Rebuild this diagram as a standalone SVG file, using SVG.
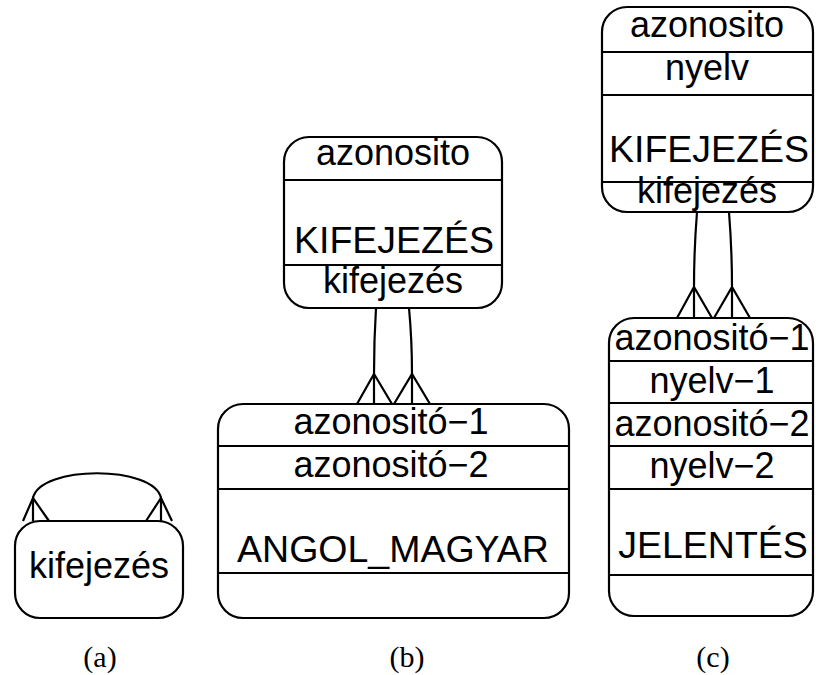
<svg xmlns="http://www.w3.org/2000/svg" width="816" height="675" viewBox="0 0 816 675">
<style>
.box{fill:none;stroke:#000;stroke-width:2.2}
.sep{stroke:#000;stroke-width:2.2}
.t{font-family:"Liberation Sans",Arial,sans-serif;font-size:36px;text-anchor:middle;fill:#000}
.c{font-size:37.5px}
.lbl{font-family:"Liberation Serif","Times New Roman",serif;font-size:30px;text-anchor:middle;fill:#000}
.con{fill:none;stroke:#000;stroke-width:2.2;stroke-linejoin:miter}
</style>
<rect width="816" height="675" fill="#fff"/>
<g id="connectors">
<path class="con" d="M33,498 C40,465 154,465 161,498"/>
<path class="con" d="M33,498 L33,521 M23,521 L33,498 L49,521"/>
<path class="con" d="M161,498 L161,521 M146,521 L161,498 L172,521"/>
<path class="con" d="M376,308 Q374,340 374,374 L374,404 M357,404 L374,374 L392,404"/>
<path class="con" d="M409,308 Q412,340 412,374 L412,404 M394,404 L412,374 L430,404"/>
<path class="con" d="M697,212 Q694,250 694,287 L694,318 M677,318 L694,287 L712,318"/>
<path class="con" d="M729,212 Q732,250 732,287 L732,318 M714,318 L732,287 L750,318"/>
</g>
<g id="a-kifejezes">
<rect class="box" x="15" y="521" width="168" height="97" rx="25"/>
<text class="t" x="99" y="578">kifejezés</text>
</g>
<g id="b-kifejezes">
<rect class="box" x="284" y="137" width="218" height="171" rx="25"/>
<line class="sep" x1="284" y1="180" x2="502" y2="180"/>
<line class="sep" x1="284" y1="265" x2="502" y2="265"/>
<text class="t" x="393" y="165">azonosito</text>
<text class="t c" x="394" y="253">KIFEJEZÉS</text>
<text class="t" x="393" y="293">kifejezés</text>
</g>
<g id="b-angol-magyar">
<rect class="box" x="218" y="404" width="351" height="214" rx="25"/>
<line class="sep" x1="218" y1="446" x2="569" y2="446"/>
<line class="sep" x1="218" y1="489" x2="569" y2="489"/>
<line class="sep" x1="218" y1="573" x2="569" y2="573"/>
<text class="t" x="391" y="434">azonosit&#243;&#8722;1</text>
<text class="t" x="391" y="477">azonosit&#243;&#8722;2</text>
<text class="t c" x="393" y="562">ANGOL_MAGYAR</text>
</g>
<g id="c-kifejezes">
<rect class="box" x="602" y="7" width="211" height="205" rx="25"/>
<line class="sep" x1="602" y1="52" x2="813" y2="52"/>
<line class="sep" x1="602" y1="95" x2="813" y2="95"/>
<line class="sep" x1="602" y1="182" x2="813" y2="182"/>
<text class="t" x="707" y="37">azonosito</text>
<text class="t" x="707" y="80">nyelv</text>
<text class="t c" x="709" y="162">KIFEJEZÉS</text>
<text class="t" x="707" y="203">kifejezés</text>
</g>
<g id="c-jelentes">
<rect class="box" x="609" y="318" width="204" height="298" rx="25"/>
<line class="sep" x1="609" y1="361" x2="813" y2="361"/>
<line class="sep" x1="609" y1="403" x2="813" y2="403"/>
<line class="sep" x1="609" y1="446" x2="813" y2="446"/>
<line class="sep" x1="609" y1="489" x2="813" y2="489"/>
<line class="sep" x1="609" y1="575" x2="813" y2="575"/>
<text class="t" x="712" y="350">azonosit&#243;&#8722;1</text>
<text class="t" x="712" y="393">nyelv&#8722;1</text>
<text class="t" x="712" y="436">azonosit&#243;&#8722;2</text>
<text class="t" x="712" y="478">nyelv&#8722;2</text>
<text class="t c" x="713" y="558">JELENTÉS</text>
</g>
<g id="labels">
<text class="lbl" x="100" y="667">(a)</text>
<text class="lbl" x="407" y="667">(b)</text>
<text class="lbl" x="713" y="667">(c)</text>
</g>
</svg>
